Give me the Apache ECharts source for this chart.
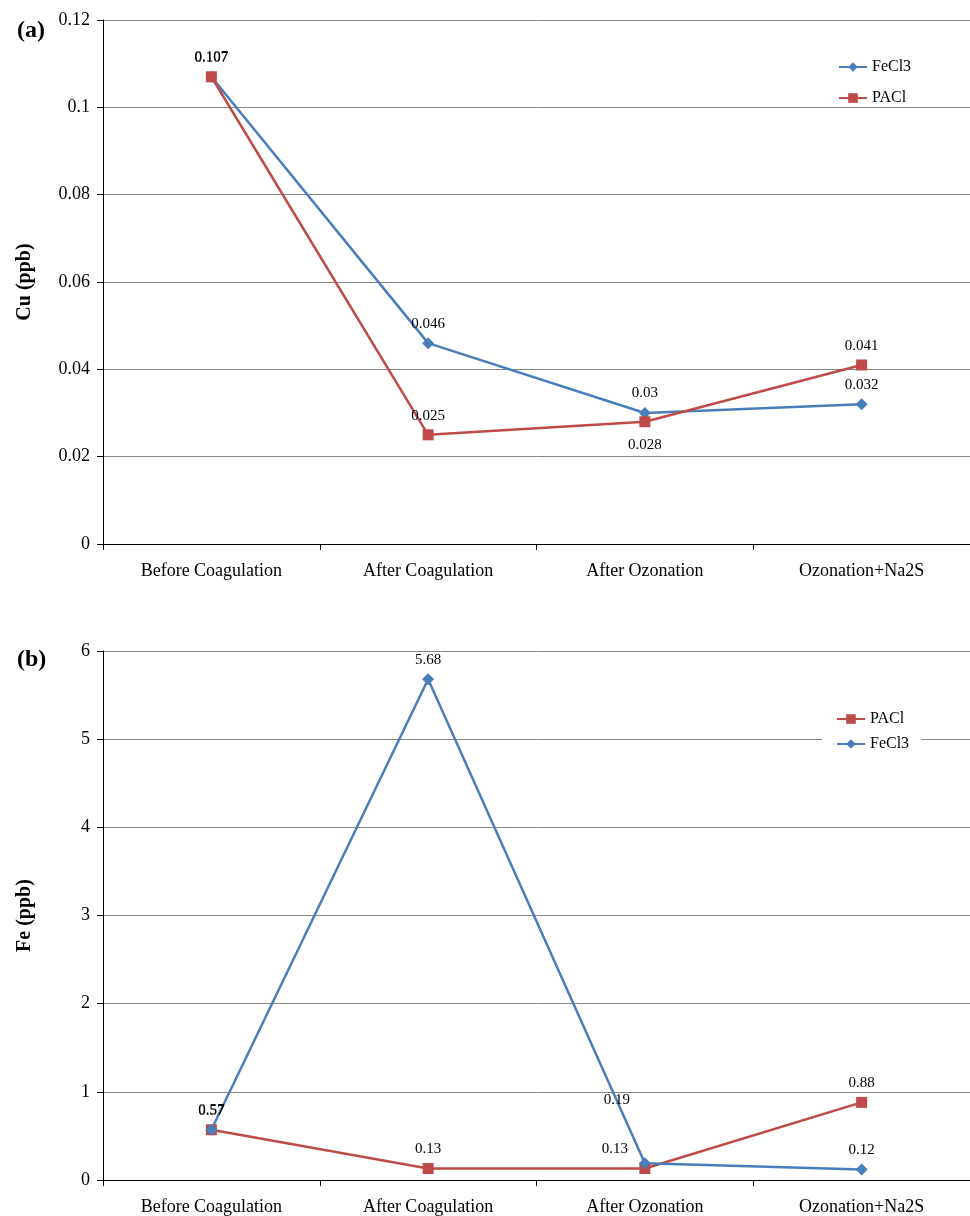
<!DOCTYPE html>
<html>
<head>
<meta charset="utf-8">
<script src="https://cdn.jsdelivr.net/npm/echarts@6/dist/echarts.min.js"></script>
<style>
html,body{margin:0;padding:0;background:#fff;}
#c{width:970px;height:1216px;}
</style>
</head>
<body>
<div id="c"></div>
<script>
// ---- data ----
var categories = ['Before Coagulation', 'After Coagulation', 'After Ozonation', 'Ozonation+Na2S'];
var cuFeCl3 = [0.107, 0.046, 0.03, 0.032];
var cuPACl  = [0.107, 0.025, 0.028, 0.041];
var feFeCl3 = [0.57, 5.68, 0.19, 0.12];
var fePACl  = [0.57, 0.13, 0.13, 0.88];

var FONT = '"Liberation Serif", "Times New Roman", serif';
var BLUE = '#4a7ebb';
var RED = '#be4b48';

function mkData(vals, overrides) {
  return vals.map(function (v, i) {
    var o = { value: v };
    if (overrides && overrides[i]) o.label = overrides[i];
    return o;
  });
}

function lineSeries(name, vals, color, symbol, size, xi, overrides) {
  return {
    name: name, type: 'line', xAxisIndex: xi, yAxisIndex: xi,
    data: mkData(vals, overrides),
    symbol: symbol, symbolSize: size,
    lineStyle: { color: color, width: 2.5 },
    itemStyle: { color: color },
    label: { show: true, position: 'top', distance: 6, color: '#000', fontFamily: FONT, fontSize: 15 },
    animation: false
  };
}

var axisCommonY = {
  axisLine: { show: true, lineStyle: { color: '#000', width: 1 } },
  axisTick: { show: true, length: 6, lineStyle: { color: '#000' } },
  axisLabel: { color: '#000', fontFamily: FONT, fontSize: 18, margin: 13 },
  splitLine: { show: true, lineStyle: { color: '#868686', width: 1 } },
  nameLocation: 'middle',
  nameTextStyle: { color: '#000', fontFamily: FONT, fontSize: 20, fontWeight: 'bold' }
};
var axisCommonX = {
  type: 'category', data: categories, boundaryGap: true,
  axisLine: { show: true, lineStyle: { color: '#000', width: 1 } },
  axisTick: { show: true, length: 6, inside: false, lineStyle: { color: '#000' } },
  axisLabel: { color: '#000', fontFamily: FONT, fontSize: 18, margin: 18 },
  splitLine: { show: false }
};

var option = {
  backgroundColor: '#fff',
  animation: false,
  title: [
    { text: '(a)', left: 12, top: 14, textStyle: { fontFamily: FONT, fontSize: 24, fontWeight: 'bold', color: '#000' } },
    { text: '(b)', left: 12, top: 643, textStyle: { fontFamily: FONT, fontSize: 24, fontWeight: 'bold', color: '#000' } }
  ],
  grid: [
    { left: 103, top: 20, width: 872, height: 524 },
    { left: 103, top: 651, width: 872, height: 530 }
  ],
  legend: [
    { data: ['FeCl3', 'PACl'], orient: 'vertical', left: 833, top: 54, itemGap: 15, itemWidth: 28, itemHeight: 12,
      textStyle: { fontFamily: FONT, fontSize: 16, color: '#000' } },
    { data: ['PACl', 'FeCl3'], orient: 'vertical', left: 822, top: 708, itemGap: 9, itemWidth: 28, itemHeight: 12,
      backgroundColor: '#fff', padding: [3, 12, 3, 14],
      textStyle: { fontFamily: FONT, fontSize: 16, color: '#000' } }
  ],
  xAxis: [
    Object.assign({ gridIndex: 0 }, axisCommonX),
    Object.assign({ gridIndex: 1 }, axisCommonX)
  ],
  yAxis: [
    Object.assign({ gridIndex: 0, type: 'value', min: 0, max: 0.12, interval: 0.02, name: 'Cu (ppb)', nameGap: 68 }, axisCommonY),
    Object.assign({ gridIndex: 1, type: 'value', min: 0, max: 6, interval: 1, name: 'Fe (ppb)', nameGap: 68 }, axisCommonY)
  ],
  series: [
    lineSeries('FeCl3', cuFeCl3, BLUE, 'diamond', 12, 0),
    lineSeries('PACl', cuPACl, RED, 'rect', 11, 0, { 2: { position: 'bottom', distance: 10 } }),
    lineSeries('PACl', fePACl, RED, 'rect', 11, 1, { 2: { offset: [-30, 0] } }),
    lineSeries('FeCl3', feFeCl3, BLUE, 'diamond', 12, 1, { 2: { offset: [-28, -44] } })
  ]
};

var chart = echarts.init(document.getElementById('c'), null, { renderer: 'canvas' });
chart.setOption(option);
</script>
</body>
</html>
